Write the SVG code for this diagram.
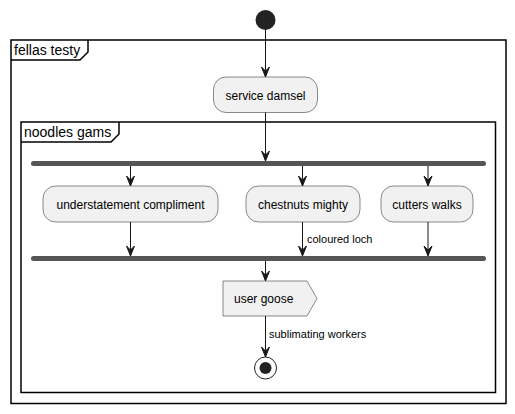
<svg xmlns="http://www.w3.org/2000/svg" width="515" height="414" viewBox="0 0 515 414">
<style>
text{font-family:"Liberation Sans",Arial,sans-serif;fill:#000}
.frame{fill:none;stroke:#000;stroke-width:1.5}
.act{fill:#F1F1F1;stroke:#181818;stroke-width:0.5}
.lbl{font-size:12px}
.ttl{font-size:14px}
.edge{font-size:11px}
.bar{fill:#555555;stroke:none}
.ln{stroke:#181818;stroke-width:1;fill:none}
.ah{fill:#181818;stroke:#181818;stroke-width:1}
</style>
<defs>
<polygon id="arrow" points="0,0 -4,-10 0,-6 4,-10"/>
</defs>
<rect width="515" height="414" fill="#FFFFFF"/>
<g id="frame-fellas">
<rect class="frame" x="11" y="40" width="495" height="363.5"/>
<path class="frame" d="M11,60 L80,60 L88,52 L88,40"/>
<text class="ttl" x="14" y="55">fellas testy</text>
</g>
<g id="frame-noodles">
<rect class="frame" x="21" y="122" width="474.5" height="270.5"/>
<path class="frame" d="M21,142 L111,142 L119,134 L119,122"/>
<text class="ttl" x="24" y="137">noodles gams</text>
</g>
<g id="start"><circle cx="265.5" cy="20" r="10" fill="#222222"/></g>
<g id="service-damsel">
<rect class="act" x="213.5" y="77" width="104" height="35.5" rx="12.5"/>
<text class="lbl" x="265.5" y="99.5" text-anchor="middle">service damsel</text>
</g>
<g id="fork"><rect class="bar" x="31" y="161" width="455" height="5" rx="2.5"/></g>
<g id="understatement-compliment">
<rect class="act" x="43" y="186" width="175" height="36" rx="12.5"/>
<text class="lbl" x="130.5" y="208.5" text-anchor="middle">understatement compliment</text>
</g>
<g id="chestnuts-mighty">
<rect class="act" x="246" y="186" width="114" height="36" rx="12.5"/>
<text class="lbl" x="303" y="208.5" text-anchor="middle">chestnuts mighty</text>
</g>
<g id="cutters-walks">
<rect class="act" x="381" y="186" width="92" height="36" rx="12.5"/>
<text class="lbl" x="427" y="208.5" text-anchor="middle">cutters walks</text>
</g>
<g id="join"><rect class="bar" x="31" y="256" width="455" height="5" rx="2.5"/></g>
<g id="user-goose">
<polygon class="act" points="223,281 307,281 317,298.5 307,316 223,316"/>
<text class="lbl" x="234" y="303">user goose</text>
</g>
<g id="end">
<circle cx="265.5" cy="368" r="11" fill="none" stroke="#222222" stroke-width="1"/>
<circle cx="265.5" cy="368" r="6" fill="#222222"/>
</g>
<g id="connectors">
<line class="ln" x1="265.5" y1="30" x2="265.5" y2="76"/>
<use href="#arrow" class="ah" x="265.5" y="77"/>
<line class="ln" x1="265.5" y1="112.5" x2="265.5" y2="160"/>
<use href="#arrow" class="ah" x="265.5" y="161"/>
<line class="ln" x1="130.5" y1="166" x2="130.5" y2="185"/>
<use href="#arrow" class="ah" x="130.5" y="186"/>
<line class="ln" x1="302.5" y1="166" x2="302.5" y2="185"/>
<use href="#arrow" class="ah" x="302.5" y="186"/>
<line class="ln" x1="428" y1="166" x2="428" y2="185"/>
<use href="#arrow" class="ah" x="428" y="186"/>
<line class="ln" x1="130.5" y1="222" x2="130.5" y2="255"/>
<use href="#arrow" class="ah" x="130.5" y="256"/>
<line class="ln" x1="302.5" y1="222" x2="302.5" y2="255"/>
<use href="#arrow" class="ah" x="302.5" y="256"/>
<text class="edge" x="307" y="243">coloured loch</text>
<line class="ln" x1="428" y1="222" x2="428" y2="255"/>
<use href="#arrow" class="ah" x="428" y="256"/>
<line class="ln" x1="265.5" y1="261" x2="265.5" y2="280"/>
<use href="#arrow" class="ah" x="265.5" y="281"/>
<line class="ln" x1="265.5" y1="316" x2="265.5" y2="356"/>
<use href="#arrow" class="ah" x="265.5" y="357"/>
<text class="edge" x="269" y="338">sublimating workers</text>
</g>
</svg>
